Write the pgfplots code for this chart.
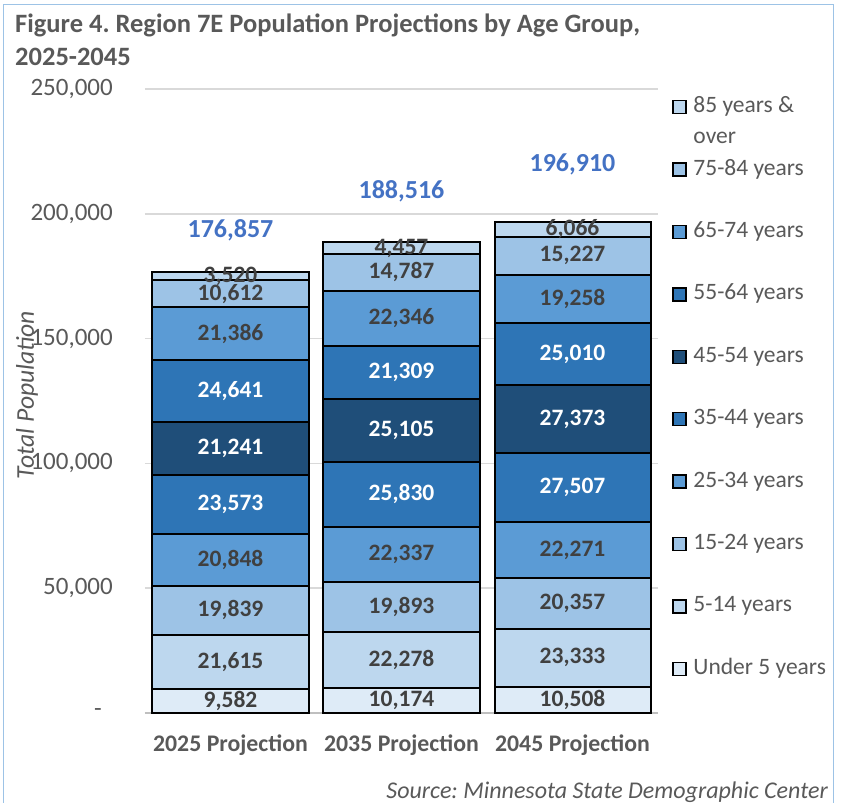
\documentclass[border=0pt]{standalone}
\usepackage{pgfplots}
\pgfplotsset{compat=1.18}
\usepackage{pgfplotstable}
\usepackage{fontspec}
\setmainfont{Carlito}
\frenchspacing
\definecolor{c0}{HTML}{DEEBF7}
\definecolor{c1}{HTML}{BDD7EE}
\definecolor{c2}{HTML}{9DC3E6}
\definecolor{c3}{HTML}{5B9BD5}
\definecolor{c4}{HTML}{2E75B6}
\definecolor{c5}{HTML}{1F4E79}
\definecolor{txt}{HTML}{595959}
\definecolor{lab}{HTML}{404040}
\definecolor{tot}{HTML}{4472C4}
\definecolor{gridc}{HTML}{D9D9D9}
\definecolor{axisc}{HTML}{BFBFBF}
\definecolor{borderc}{HTML}{9DC3E6}

\pgfplotstableread{
x u5 a514 a1524 a2534 a3544 a4554 a5564 a6574 a7584 a85
0 9582 21615 19839 20848 23573 21241 24641 21386 10612 3520
1 10174 22278 19893 22337 25830 25105 21309 22346 14787 4457
2 10508 23333 20357 22271 27507 27373 25010 19258 15227 6066
}\datatable

\pgfplotstableread{
x y lab
0 4791 9,582
0 20389.5 21,615
0 41116.5 19,839
0 61460 20,848
0 152032 21,386
0 168031 10,612
0 175097 3,520
1 5087 10,174
1 21313 22,278
1 42398.5 19,893
1 63513.5 22,337
1 158099 22,346
1 176665.5 14,787
1 186287.5 4,457
2 5254 10,508
2 22174.5 23,333
2 44019.5 20,357
2 65333.5 22,271
2 165988 19,258
2 183230.5 15,227
2 193877 6,066
}\darklabels

\pgfplotstableread{
x y lab
0 83670.5 23,573
0 106077.5 21,241
0 129018.5 24,641
1 87597 25,830
1 113064.5 25,105
1 136271.5 21,309
2 90222.5 27,507
2 117662.5 27,373
2 143854 25,010
}\whitelabels

\pgfplotstableread{
x y lab
0 193510 176,857
1 209135 188,516
2 219952 196,910
}\totals

\begin{document}
\begin{tikzpicture}[x=1pt,y=1pt]
\useasboundingbox (0pt,0pt) rectangle (844pt,-803pt);
\draw[borderc, line width=1.5pt] (3.5pt,-815pt) -- (3.5pt,-4.5pt) -- (833.5pt,-4.5pt) -- (833.5pt,-815pt);
\node[anchor=base west, text=txt, font=\bfseries\fontsize{26.5}{30}\selectfont, inner sep=0pt] at (15pt,-32pt) {Figure 4. Region 7E Population Projections by Age Group,};
\node[anchor=base west, text=txt, font=\bfseries\fontsize{26.5}{30}\selectfont, inner sep=0pt] at (15pt,-65pt) {2025-2045};

\begin{axis}[
  at={(145pt,-713pt)}, anchor=south west,
  scale only axis, width=513pt, height=624pt,
  xmin=-0.5, xmax=2.5, ymin=0, ymax=250000,
  ybar stacked, bar width=156pt,
  xtick={0,1,2}, xticklabels={2025 Projection,2035 Projection,2045 Projection},
  ytick={0,50000,100000,150000,200000,250000},
  scaled y ticks=false,
  yticklabels={-\hspace*{11pt},{50,000},{100,000},{150,000},{200,000},{250,000}},
  yticklabel style={anchor=east, inner sep=0pt, xshift=-32pt, text=txt, font=\fontsize{25}{30}\selectfont},
  xticklabel style={anchor=base, inner sep=0pt, yshift=-38pt, text=txt, font=\bfseries\fontsize{23.8}{28}\selectfont},
  axis x line*=bottom, axis y line*=left,
  y axis line style={draw=none},
  x axis line style={draw=axisc, line width=2pt},
  major tick length=0pt, tick style={draw=none},
  ymajorgrids, grid style={draw=gridc, line width=1.5pt},
  ylabel={Total Population},
  every axis y label/.style={at={(axis description cs:-0.230,0.5096)}, rotate=90, anchor=center, font=\itshape\fontsize{25.6}{30}\selectfont, text=txt},
  every axis plot/.append style={legend image code/.code={\draw[##1, line width=1.5pt, draw=black] (0pt,-6.5pt) rectangle (13pt,6.5pt);}},
  legend style={at={(axis description cs:1.0278,0.9896)}, anchor=north west, draw=none, fill=none, inner sep=0pt,
    row sep=39.4pt,
    nodes={inner sep=0pt, text height=17pt, text depth=6pt, font=\fontsize{23.5}{31}\selectfont, text=txt},
    /tikz/every odd column/.append style={column sep=6.5pt}},
  legend cell align=left, reverse legend,
]
\addplot[fill=c0, draw=black, line width=2pt] table[x=x, y=u5] {\datatable};
\addlegendentry{Under 5 years}
\addplot[fill=c1, draw=black, line width=2pt] table[x=x, y=a514] {\datatable};
\addlegendentry{5-14 years}
\addplot[fill=c2, draw=black, line width=2pt] table[x=x, y=a1524] {\datatable};
\addlegendentry{15-24 years}
\addplot[fill=c3, draw=black, line width=2pt] table[x=x, y=a2534] {\datatable};
\addlegendentry{25-34 years}
\addplot[fill=c4, draw=black, line width=2pt] table[x=x, y=a3544] {\datatable};
\addlegendentry{35-44 years}
\addplot[fill=c5, draw=black, line width=2pt] table[x=x, y=a4554] {\datatable};
\addlegendentry{45-54 years}
\addplot[fill=c4, draw=black, line width=2pt] table[x=x, y=a5564] {\datatable};
\addlegendentry{55-64 years}
\addplot[fill=c3, draw=black, line width=2pt] table[x=x, y=a6574] {\datatable};
\addlegendentry{65-74 years}
\addplot[fill=c2, draw=black, line width=2pt] table[x=x, y=a7584] {\datatable};
\addlegendentry{75-84 years}
\addplot[fill=c1, draw=black, line width=2pt] table[x=x, y=a85] {\datatable};
\addlegendentry{\smash{\begin{tabular}[t]{@{}l@{}}85 years \&\\over\end{tabular}}}
\end{axis}

\begin{axis}[
  at={(145pt,-713pt)}, anchor=south west,
  scale only axis, width=513pt, height=624pt,
  xmin=-0.5, xmax=2.5, ymin=0, ymax=250000,
  hide axis, clip=false,
]
\addplot[draw=none, mark=none, nodes near coords, point meta=explicit symbolic,
  nodes near coords style={anchor=center, inner sep=0pt, text=lab, font=\bfseries\fontsize{23.5}{28}\selectfont}]
  table[x=x, y=y, meta=lab] {\darklabels};
\addplot[draw=none, mark=none, nodes near coords, point meta=explicit symbolic,
  nodes near coords style={anchor=center, inner sep=0pt, text=white, font=\bfseries\fontsize{23.5}{28}\selectfont}]
  table[x=x, y=y, meta=lab] {\whitelabels};
\addplot[draw=none, mark=none, nodes near coords, point meta=explicit symbolic,
  nodes near coords style={anchor=center, inner sep=0pt, text=tot, font=\bfseries\fontsize{26}{30}\selectfont}]
  table[x=x, y=y, meta=lab] {\totals};
\end{axis}

\node[anchor=base east, inner sep=0pt, text=txt, font=\itshape\fontsize{24}{28}\selectfont] at (828pt,-798pt) {Source: Minnesota State Demographic Center};
\end{tikzpicture}
\end{document}
